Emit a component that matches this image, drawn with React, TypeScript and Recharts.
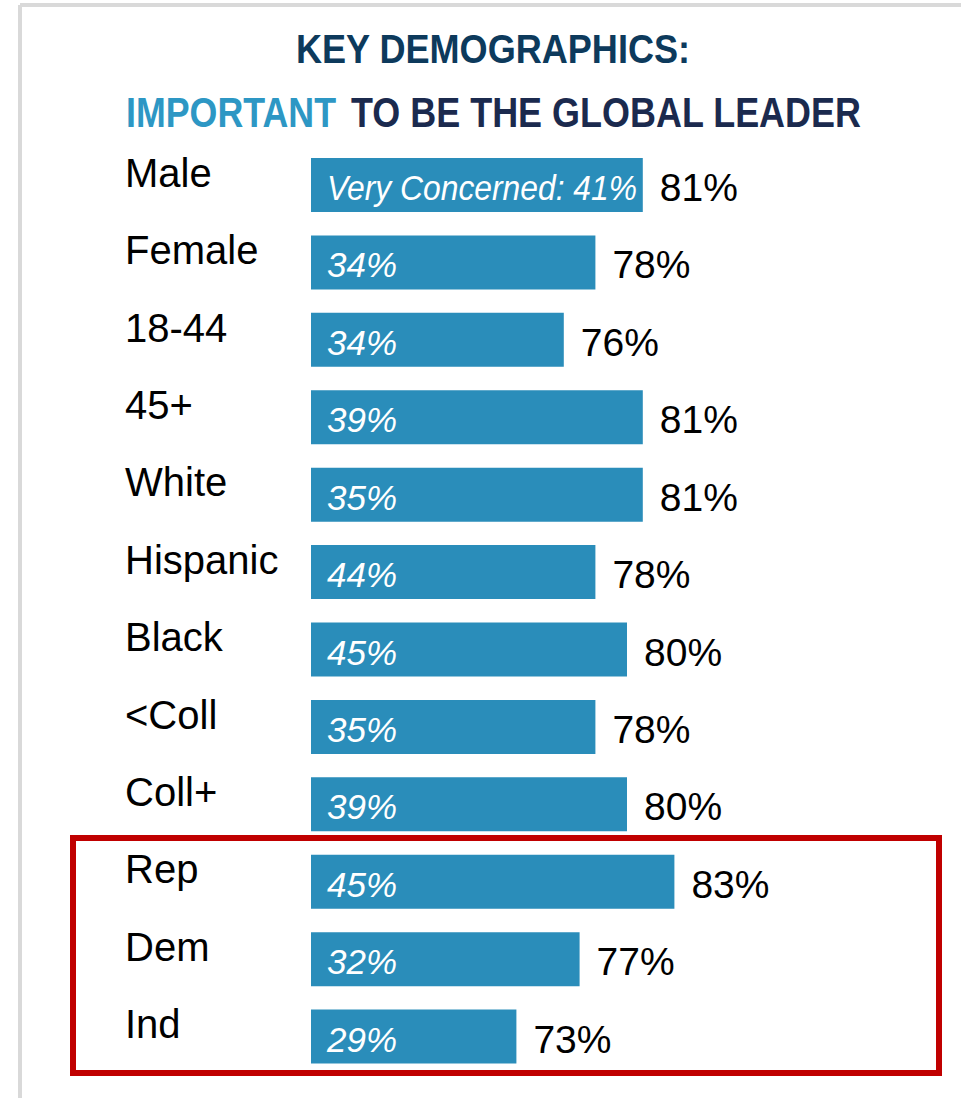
import React from "react";
import { BarChart, Bar, XAxis, YAxis, LabelList } from "recharts";

// 응답 그룹별 데이터
const categories = ["Male", "Female", "18-44", "45+", "White", "Hispanic", "Black", "<Coll", "Coll+", "Rep", "Dem", "Ind"];
const important = [81, 78, 76, 81, 81, 78, 80, 78, 80, 83, 77, 73];
const veryConcerned = [41, 34, 34, 39, 35, 44, 45, 35, 39, 45, 32, 29];

const data = categories.map((name, i) => ({
  name,
  important: important[i],
  concernedLabel: i === 0 ? `Very Concerned: ${veryConcerned[i]}%` : `${veryConcerned[i]}%`,
}));

const FONT = "'Liberation Sans', Arial, sans-serif";
const NARROW = "'Liberation Sans Narrow', 'Liberation Sans', Arial, sans-serif";
const BAR_COLOR = "#2a8dba";

const CategoryTick = ({ y, payload }: any) => (
  <text x={125} y={y + 2} fontSize={40} fill="#000" fontFamily={FONT}>
    {payload.value}
  </text>
);

const InnerLabel = ({ x, y, height, value, index }: any) => (
  <text
    x={x + 16}
    y={y + height / 2 + 15}
    fontSize={35}
    fontStyle="italic"
    fill="#fff"
    fontFamily={FONT}
    // 첫 줄 라벨은 원본처럼 좁은 글꼴 폭에 맞춤
    textLength={index === 0 ? 310 : undefined}
    lengthAdjust={index === 0 ? "spacingAndGlyphs" : undefined}
  >
    {value}
  </text>
);

const TotalLabel = ({ x, y, width, height, value }: any) => (
  <text x={x + width + 17} y={y + height / 2 + 16} fontSize={39} fill="#000" fontFamily={FONT}>
    {`${value}%`}
  </text>
);

export default function App() {
  return (
    <div style={{ position: "absolute", left: 0, top: 0, width: 961, height: 1098, background: "#fff" }}>
      <BarChart
        width={961}
        height={1098}
        layout="vertical"
        data={data}
        margin={{ top: 146, right: 18, bottom: 23, left: 111 }}
      >
        <XAxis type="number" domain={[60, 100]} hide />
        <YAxis
          type="category"
          dataKey="name"
          width={200}
          axisLine={false}
          tickLine={false}
          interval={0}
          tick={<CategoryTick />}
        />
        <Bar dataKey="important" fill={BAR_COLOR} barSize={54} isAnimationActive={false}>
          <LabelList dataKey="concernedLabel" content={<InnerLabel />} />
          <LabelList dataKey="important" content={<TotalLabel />} />
        </Bar>
      </BarChart>

      {/* 프레임, 제목, 빨간 강조 박스 */}
      <svg
        width={961}
        height={1098}
        style={{ position: "absolute", left: 0, top: 0, pointerEvents: "none" }}
      >
        <line x1={20} y1={5} x2={961} y2={5} stroke="#d9d9d9" strokeWidth={4} />
        <line x1={20} y1={5} x2={20} y2={1098} stroke="#d9d9d9" strokeWidth={4} />
        <text
          x={296}
          y={63}
          fontSize={41}
          fontWeight={700}
          fill="#0d3a5c"
          fontFamily={NARROW}
          textLength={394}
          lengthAdjust="spacingAndGlyphs"
        >
          KEY DEMOGRAPHICS:
        </text>
        <text
          x={126}
          y={127}
          fontSize={42}
          fontWeight={700}
          fill="#2d97c4"
          fontFamily={NARROW}
          textLength={210}
          lengthAdjust="spacingAndGlyphs"
        >
          IMPORTANT
        </text>
        <text
          x={351}
          y={127}
          fontSize={42}
          fontWeight={700}
          fill="#1b2a4e"
          fontFamily={NARROW}
          textLength={510}
          lengthAdjust="spacingAndGlyphs"
        >
          TO BE THE GLOBAL LEADER
        </text>
        <rect x={73} y={838} width={866} height={235} fill="none" stroke="#c00000" strokeWidth={6} />
      </svg>
    </div>
  );
}
